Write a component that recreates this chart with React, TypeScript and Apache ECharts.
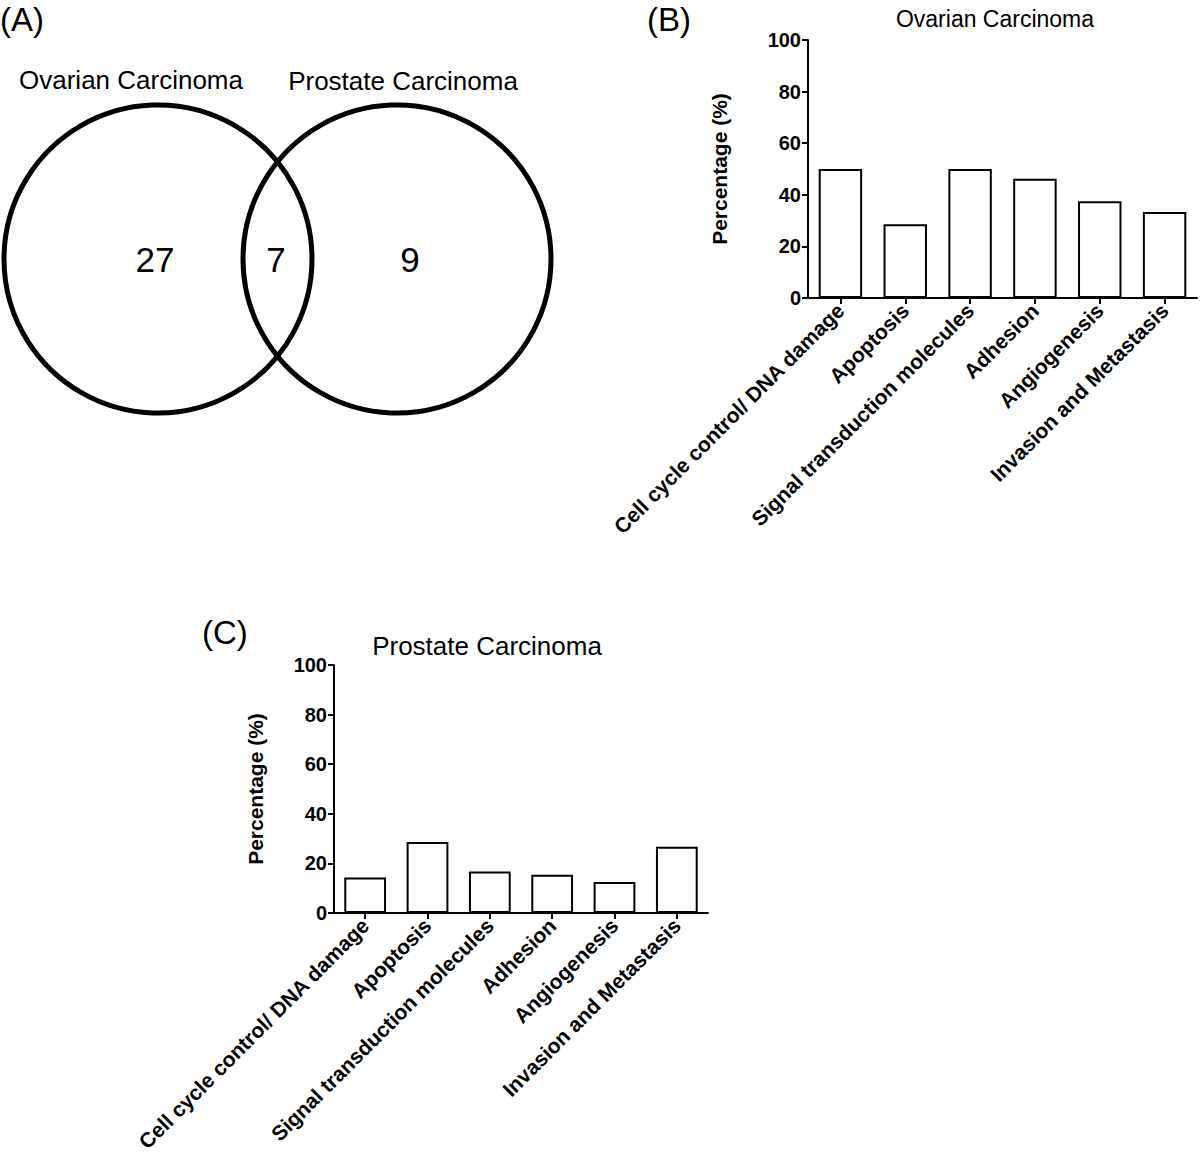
import React, { useEffect, useRef } from "react";
import * as echarts from "echarts";

const categories = [
  "Cell cycle control/ DNA damage",
  "Apoptosis",
  "Signal transduction molecules",
  "Adhesion",
  "Angiogenesis",
  "Invasion and Metastasis",
];
const ovarianPct = [50, 28.6, 50, 46.2, 37.5, 33.3];
const prostatePct = [14.3, 28.6, 16.7, 15.4, 12.5, 26.7];
const yMin = 0;
const yMax = 100;
const yStep = 20;
const vennSets = ["Ovarian Carcinoma", "Prostate Carcinoma"];
const vennCounts = [27, 7, 9];
const panelLabels = ["(A)", "(B)", "(C)"];
const barTitles = ["Ovarian Carcinoma", "Prostate Carcinoma"];
const yAxisName = "Percentage (%)";

const FONT = "'Liberation Sans', Arial, Helvetica, sans-serif";

export default function App() {
  const ref = useRef<HTMLDivElement>(null);
  useEffect(() => {
    if (!ref.current) return;
    const chart = echarts.init(ref.current, undefined, { renderer: "svg" });

    const axisLine = { show: true, lineStyle: { color: "#000", width: 2 } };
    const axisTick = { show: true, length: 6, lineStyle: { color: "#000", width: 2 } };

    const mkX = (gridIndex: number) => ({
      type: "category",
      gridIndex,
      data: categories,
      axisLine,
      axisTick: { ...axisTick, alignWithLabel: true },
      axisLabel: {
        rotate: 45,
        interval: 0,
        margin: 9,
        color: "#000",
        fontFamily: FONT,
        fontWeight: "bold",
        fontSize: 21,
      },
      splitLine: { show: false },
    });
    const mkY = (gridIndex: number, nameGap: number) => ({
      type: "value",
      gridIndex,
      min: yMin,
      max: yMax,
      interval: yStep,
      name: yAxisName,
      nameLocation: "middle",
      nameRotate: 90,
      nameGap,
      nameTextStyle: { color: "#000", fontFamily: FONT, fontWeight: "bold", fontSize: 21 },
      axisLine,
      axisTick,
      axisLabel: { margin: 7, color: "#000", fontFamily: FONT, fontWeight: "bold", fontSize: 20 },
      splitLine: { show: false },
    });

    const barStyle = { color: "#fff", borderColor: "#000", borderWidth: 2 };

    const circle = (cx: number) => ({
      type: "circle",
      shape: { cx, cy: 259, r: 154 },
      style: { fill: "none", stroke: "#000", lineWidth: 5 },
    });
    const txt = (x: number, y: number, text: string, size: number, align = "center", weight = "normal") => ({
      type: "text",
      x,
      y,
      style: {
        text,
        fill: "#000",
        font: `${weight} ${size}px ${FONT}`,
        textAlign: align,
        textVerticalAlign: "middle",
      },
    });

    chart.setOption({
      animation: false,
      backgroundColor: "#fff",
      grid: [
        { left: 808, top: 40, width: 389, height: 258, containLabel: false },
        { left: 334, top: 665, width: 374, height: 248, containLabel: false },
      ],
      xAxis: [mkX(0), mkX(1)],
      yAxis: [mkY(0, 78), mkY(1, 68)],
      series: [
        {
          type: "bar",
          xAxisIndex: 0,
          yAxisIndex: 0,
          data: ovarianPct,
          barCategoryGap: "33%",
          itemStyle: barStyle,
        },
        {
          type: "bar",
          xAxisIndex: 1,
          yAxisIndex: 1,
          data: prostatePct,
          barCategoryGap: "33%",
          itemStyle: barStyle,
        },
      ],
      graphic: [
        circle(158),
        circle(397),
        txt(131, 80, vennSets[0], 26),
        txt(403, 81, vennSets[1], 26),
        txt(155, 259, String(vennCounts[0]), 35),
        txt(276, 259, String(vennCounts[1]), 35),
        txt(410, 259, String(vennCounts[2]), 35),
        txt(0, 19, panelLabels[0], 33, "left"),
        txt(647, 19, panelLabels[1], 33, "left"),
        txt(202, 632, panelLabels[2], 33, "left"),
        txt(995, 19, barTitles[0], 23),
        txt(487, 646, barTitles[1], 26),
      ],
    });
    return () => chart.dispose();
  }, []);
  return (
    <div
      ref={ref}
      style={{ position: "absolute", left: 0, top: 0, width: 1200, height: 1159, background: "#fff" }}
    />
  );
}
